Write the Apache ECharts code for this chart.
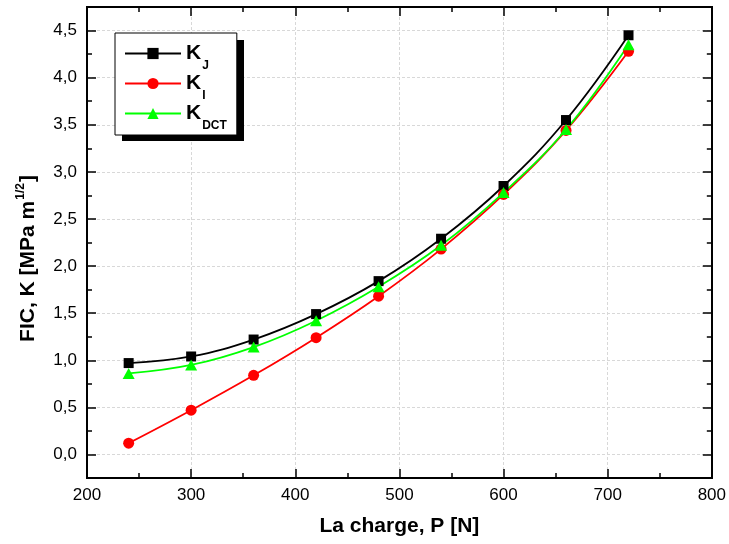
<!DOCTYPE html>
<html>
<head>
<meta charset="utf-8">
<script src="https://cdn.jsdelivr.net/npm/echarts@6/dist/echarts.min.js"></script>
<style>
  html, body { margin: 0; padding: 0; background: #ffffff; }
  #chart { width: 729px; height: 544px; }
</style>
</head>
<body>
<div id="chart"></div>
<script>
// Applied load P [N]
const loads = [240, 300, 360, 420, 480, 540, 600, 660, 720];
// Stress intensity factors K [MPa m^1/2]
const kJ   = [0.97, 1.04, 1.22, 1.49, 1.84, 2.29, 2.85, 3.55, 4.45];
const kI   = [0.12, 0.47, 0.84, 1.24, 1.68, 2.18, 2.76, 3.44, 4.28];
const kDCT = [0.86, 0.95, 1.14, 1.42, 1.78, 2.22, 2.78, 3.45, 4.35];

// Tick positions
const xMajor = [200, 300, 400, 500, 600, 700, 800];
const xMinor = [250, 350, 450, 550, 650, 750];
const yMajor = [0, 0.5, 1, 1.5, 2, 2.5, 3, 3.5, 4, 4.5];
const yMinor = [0.25, 0.75, 1.25, 1.75, 2.25, 2.75, 3.25, 3.75, 4.25];

const seriesNames = ['K_J', 'K_I', 'K_DCT'];
const subscripts = { 'K_J': 'J', 'K_I': 'I', 'K_DCT': 'DCT' };

const FONT = "'Liberation Sans', Arial, sans-serif";
const gridDash = { color: '#d8d8d8', width: 1, type: [3, 2] };
const frameLine = { show: true, onZero: false, lineStyle: { color: '#000', width: 2 } };

function xAxisDef(position, ticks, len, opts) {
  return Object.assign({
    type: 'value', position: position, min: 200, max: 800, interval: 50,
    axisLine: frameLine,
    axisTick: { show: true, inside: true, length: len, customValues: ticks,
                lineStyle: { color: '#000', width: 1.5 } },
    axisLabel: { show: false },
    splitLine: { show: false }
  }, opts || {});
}
function yAxisDef(position, ticks, len, opts) {
  return Object.assign({
    type: 'value', position: position, min: -0.25, max: 4.75, interval: 0.25,
    axisLine: frameLine,
    axisTick: { show: true, inside: true, length: len, customValues: ticks,
                lineStyle: { color: '#000', width: 1.5 } },
    axisLabel: { show: false },
    splitLine: { show: false }
  }, opts || {});
}

const chart = echarts.init(document.getElementById('chart'), null, { renderer: 'canvas' });

chart.setOption({
  animation: false,
  backgroundColor: '#ffffff',
  textStyle: { fontFamily: FONT },
  grid: { left: 87, right: 16, top: 7, bottom: 66, containLabel: false },
  // solid drop shadow behind the legend box
  graphic: [{
    type: 'rect', z: 3, silent: true,
    shape: { x: 122, y: 40, width: 122, height: 101 },
    style: { fill: '#000' }
  }],
  legend: {
    data: seriesNames,
    orient: 'vertical',
    z: 10,
    left: 115, top: 33,
    padding: [2, 10, 3, 9],
    itemGap: -7,
    itemWidth: 56,
    itemHeight: 14,
    backgroundColor: '#ffffff',
    borderColor: '#000',
    borderWidth: 1,
    selectedMode: false,
    formatter: function (name) { return '{k|K}{s|' + subscripts[name] + '}'; },
    textStyle: {
      fontFamily: FONT,
      rich: {
        k: { fontSize: 21, fontWeight: 'bold', color: '#000', lineHeight: 16, fontFamily: FONT },
        s: { fontSize: 12, fontWeight: 'bold', color: '#000', lineHeight: 16, padding: [25, 0, 0, 1], fontFamily: FONT }
      }
    }
  },
  xAxis: [
    xAxisDef('bottom', xMajor, 9, {
      name: 'La charge, P [N]',
      nameLocation: 'middle',
      nameGap: 38,
      nameTextStyle: { fontSize: 21, fontWeight: 'bold', color: '#000', fontFamily: FONT },
      axisLabel: { show: true, customValues: xMajor, margin: 9, fontSize: 17, color: '#000', fontFamily: FONT },
      splitLine: { show: true, lineStyle: gridDash }
    }),
    xAxisDef('bottom', xMinor, 5),
    xAxisDef('top', xMajor, 9),
    xAxisDef('top', xMinor, 5)
  ],
  yAxis: [
    yAxisDef('left', yMajor, 9, {
      name: '{t|FIC, K [MPa m}{p|1/2}{t|]}',
      nameLocation: 'middle',
      nameGap: 47,
      nameTextStyle: {
        padding: [0, 32, 0, 0],
        rich: {
          t: { fontSize: 21, fontWeight: 'bold', color: '#000', lineHeight: 21, fontFamily: FONT },
          p: { fontSize: 12, fontWeight: 'bold', color: '#000', lineHeight: 21, padding: [0, 1, 16, 1], fontFamily: FONT }
        }
      },
      axisLabel: {
        show: true, customValues: yMajor, margin: 10, fontSize: 17, color: '#000', fontFamily: FONT,
        formatter: function (v) { return v.toFixed(1).replace('.', ','); }
      },
      splitLine: { show: true, lineStyle: gridDash }
    }),
    yAxisDef('left', yMinor, 5),
    yAxisDef('right', yMajor, 9),
    yAxisDef('right', yMinor, 5)
  ],
  series: [
    {
      name: 'K_J', type: 'line', xAxisIndex: 0, yAxisIndex: 0,
      data: loads.map((p, i) => [p, kJ[i]]),
      smooth: 0.4, symbol: 'rect', symbolSize: 10,
      itemStyle: { color: '#000000' },
      lineStyle: { color: '#000000', width: 1.8 }
    },
    {
      name: 'K_I', type: 'line', xAxisIndex: 0, yAxisIndex: 0,
      data: loads.map((p, i) => [p, kI[i]]),
      smooth: 0.4, symbol: 'circle', symbolSize: 11,
      itemStyle: { color: '#ff0000' },
      lineStyle: { color: '#ff0000', width: 1.8 }
    },
    {
      name: 'K_DCT', type: 'line', xAxisIndex: 0, yAxisIndex: 0,
      data: loads.map((p, i) => [p, kDCT[i]]),
      smooth: 0.4, symbol: 'triangle', symbolSize: [12, 11],
      itemStyle: { color: '#00ff00' },
      lineStyle: { color: '#00ff00', width: 1.8 }
    }
  ]
});
</script>
</body>
</html>
